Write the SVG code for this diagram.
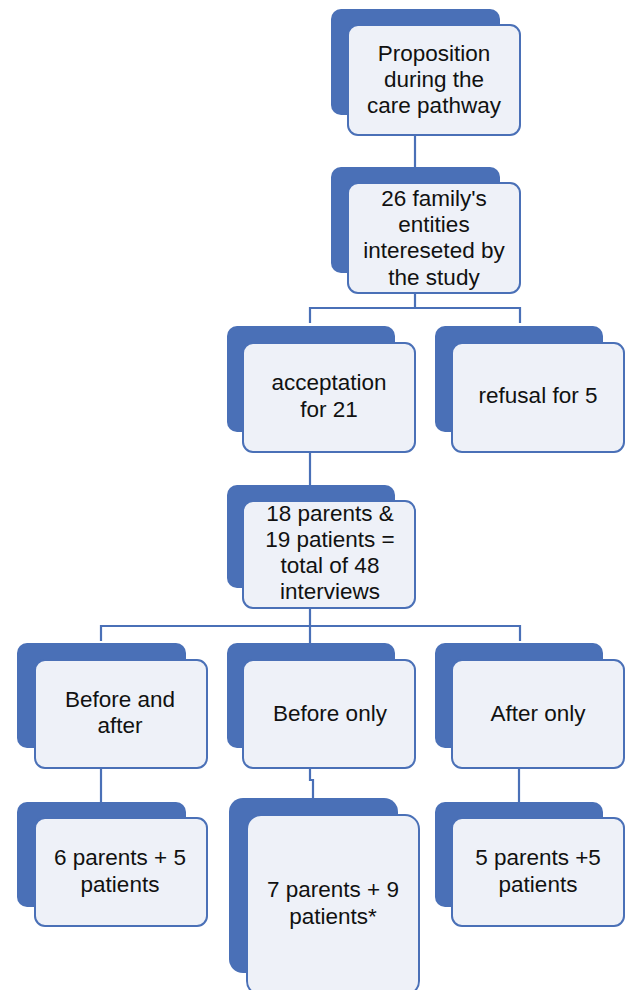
<svg xmlns="http://www.w3.org/2000/svg" width="626" height="990" viewBox="0 0 626 990">
<style>
.back{fill:#4a70b7}
.front{fill:#eef1f8;stroke:#4a70b7;stroke-width:2}
.conn{fill:none;stroke:#4a70b7;stroke-width:2.2}
text{font-family:"Liberation Sans",Arial,sans-serif;font-size:22.5px;fill:#111;text-anchor:middle}
</style>
<rect width="626" height="990" fill="#fff"/>
<g id="connectors">
<path class="conn" d="M415,135 V167"/>
<path class="conn" d="M415,293 V308 M310,323 V308 H520 V323"/>
<path class="conn" d="M310,452 V485"/>
<path class="conn" d="M310,608 V643 M101,641 V626 H520 V641"/>
<path class="conn" d="M101,768 V802"/>
<path class="conn" d="M310,768 V780 H313 V798"/>
<path class="conn" d="M519,768 V802"/>
</g>
<g id="n1">
<rect class="back" x="331" y="9" width="169" height="106" rx="10"/>
<rect class="front" x="348" y="25" width="172" height="110" rx="10"/>
<text x="434" y="61">Proposition</text>
<text x="434" y="87">during the</text>
<text x="434" y="113">care pathway</text>
</g>
<g id="n2">
<rect class="back" x="331" y="167" width="169" height="106" rx="10"/>
<rect class="front" x="348" y="183" width="172" height="110" rx="10"/>
<text x="434" y="206">26 family's</text>
<text x="434" y="232">entities</text>
<text x="434" y="258">intereseted by</text>
<text x="434" y="285">the study</text>
</g>
<g id="n3">
<rect class="back" x="227" y="326" width="168" height="106" rx="10"/>
<rect class="front" x="243" y="343" width="172" height="109" rx="10"/>
<text x="329" y="390">acceptation</text>
<text x="329" y="417">for 21</text>
</g>
<g id="n4">
<rect class="back" x="435" y="326" width="168" height="106" rx="10"/>
<rect class="front" x="452" y="343" width="172" height="109" rx="10"/>
<text x="538" y="403">refusal for 5</text>
</g>
<g id="n5">
<rect class="back" x="227" y="485" width="168" height="103" rx="10"/>
<rect class="front" x="243" y="501" width="172" height="107" rx="10"/>
<text x="330" y="521">18 parents &amp;</text>
<text x="330" y="547">19 patients =</text>
<text x="330" y="573">total of 48</text>
<text x="330" y="599">interviews</text>
</g>
<g id="n6">
<rect class="back" x="17" y="643" width="169" height="105" rx="10"/>
<rect class="front" x="35" y="660" width="172" height="108" rx="10"/>
<text x="120" y="707">Before and</text>
<text x="120" y="733">after</text>
</g>
<g id="n7">
<rect class="back" x="227" y="643" width="168" height="105" rx="10"/>
<rect class="front" x="243" y="660" width="172" height="108" rx="10"/>
<text x="330" y="721">Before only</text>
</g>
<g id="n8">
<rect class="back" x="435" y="643" width="168" height="105" rx="10"/>
<rect class="front" x="452" y="660" width="172" height="108" rx="10"/>
<text x="538" y="721">After only</text>
</g>
<g id="n9">
<rect class="back" x="17" y="802" width="169" height="105" rx="10"/>
<rect class="front" x="35" y="818" width="172" height="108" rx="10"/>
<text x="120" y="865">6 parents + 5</text>
<text x="120" y="892">patients</text>
</g>
<g id="n10">
<rect class="back" x="229" y="798" width="169" height="175" rx="14"/>
<rect class="front" x="247" y="815" width="172" height="180" rx="14"/>
<text x="333" y="897">7 parents + 9</text>
<text x="333" y="924">patients*</text>
</g>
<g id="n11">
<rect class="back" x="435" y="802" width="168" height="105" rx="10"/>
<rect class="front" x="452" y="818" width="172" height="108" rx="10"/>
<text x="538" y="865">5 parents +5</text>
<text x="538" y="892">patients</text>
</g>
</svg>
